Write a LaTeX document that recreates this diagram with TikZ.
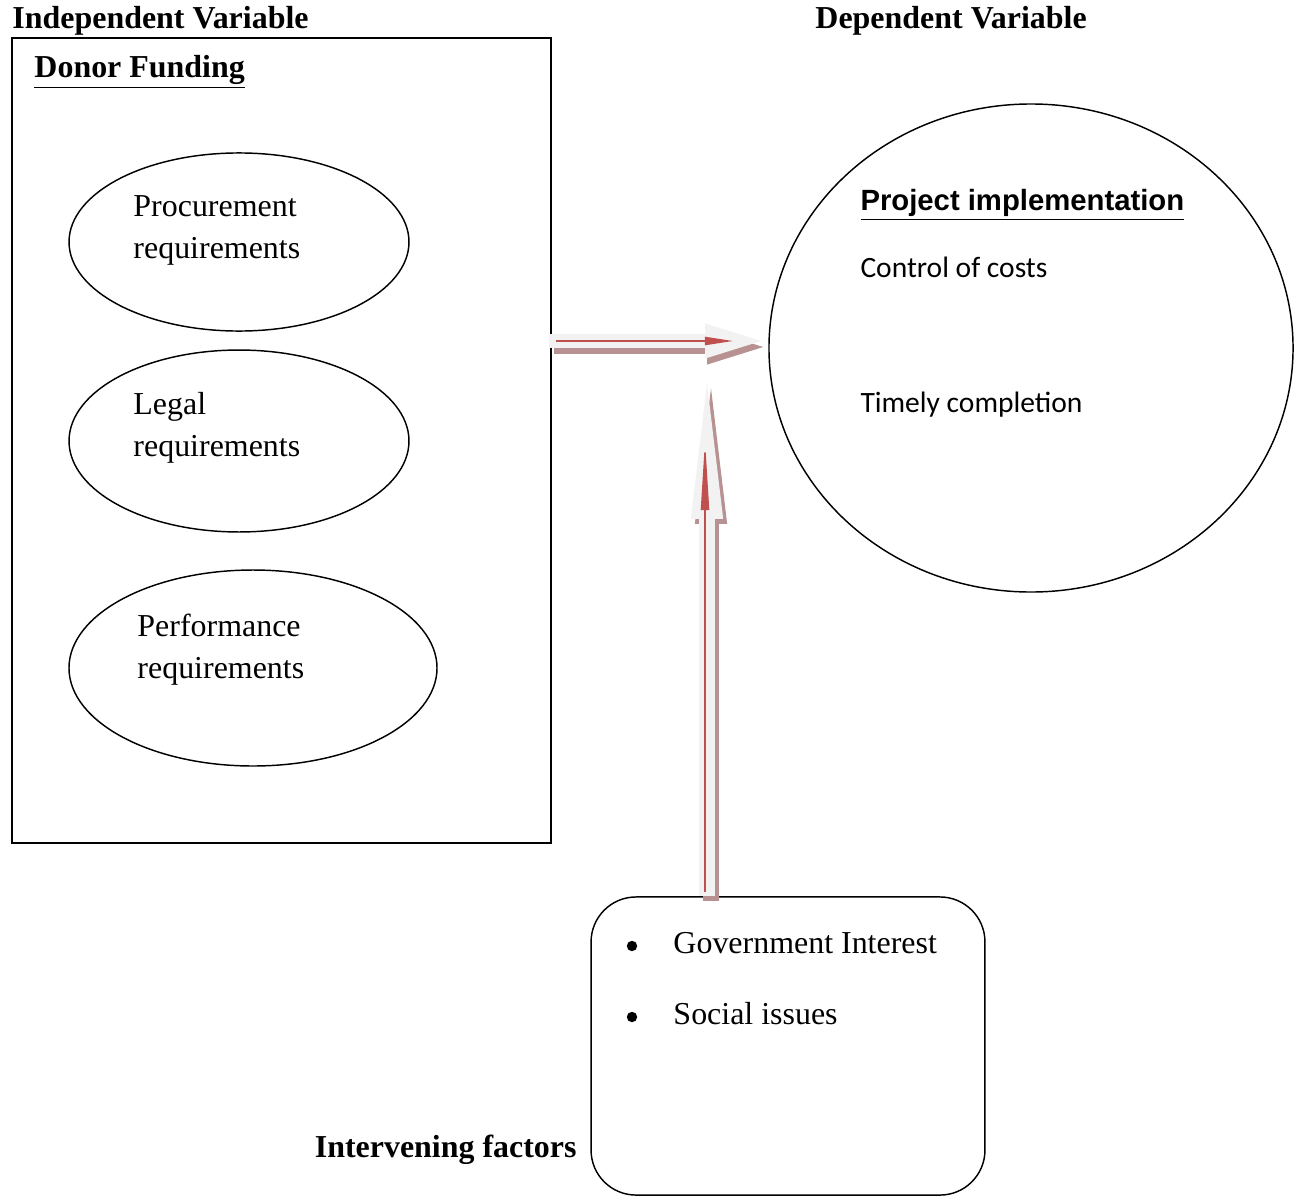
\documentclass[tikz,border=0pt]{standalone}
\usepackage{fontspec}
\setmainfont{Liberation Serif}
\newfontfamily\arialfont{Liberation Sans}
\newfontfamily\calibrifont{Carlito}
\usetikzlibrary{shapes.geometric,arrows.meta,calc}

\definecolor{arrowfill}{RGB}{242,242,242}
\definecolor{arrowshade}{RGB}{184,146,146}
\definecolor{arrowred}{RGB}{192,80,77}

\begin{document}
\begin{tikzpicture}[x=0.4133pt,y=-0.4133pt,
    txt/.style={anchor=base west, inner sep=0pt, font=\fontsize{13.2}{17.4}\selectfont},
    head/.style={anchor=base west, inner sep=0pt, font=\fontsize{13.2}{15}\selectfont\bfseries},
    calib/.style={anchor=base west, inner sep=0pt, font=\fontsize{12.2}{14}\calibrifont},
    dot/.style={circle, fill, inner sep=0pt, minimum size=4.3pt},
    oval/.style={ellipse, draw, line width=0.6pt, inner sep=0pt},
    fatH/.style={line width=5.8pt, -{Triangle[length=26pt,width=12.4pt]}},
    fatV/.style={line width=6.6pt, -{Triangle[length=69pt,width=11.2pt]}},
    thinred/.style={arrowred, line width=0.6pt}
    ]
    \useasboundingbox (0,0) rectangle (1295,1197);

    \node [head] (indep) at (12,29) {Independent Variable};
    \node [head] (dep) at (815,29) {Dependent Variable};

    \node [draw, line width=0.6pt, minimum width=222.8pt, minimum height=332.7pt, inner sep=0pt] (donor) at (281.5,440.5) {};
    \node [head] (donortitle) at (34,77) {\underline{Donor Funding}};

    \node [oval, minimum width=140.5pt, minimum height=73.6pt] (proc) at (239,242) {};
    \node [oval, minimum width=140.5pt, minimum height=75.2pt] (legal) at (239,441) {};
    \node [oval, minimum width=152.1pt, minimum height=81pt] (perf) at (253,668) {};
    \node [txt] (proc1) at (133,216) {Procurement};
    \node [txt] (proc2) at (133,258) {requirements};
    \node [txt] (legal1) at (133,414) {Legal};
    \node [txt] (legal2) at (133,456) {requirements};
    \node [txt] (perf1) at (137,636) {Performance};
    \node [txt] (perf2) at (137,678) {requirements};

    % dependent variable
    \node [oval, minimum width=216.6pt, minimum height=201.7pt] (impl) at (1031,348) {};
    \node [anchor=base west, inner sep=0pt, font=\fontsize{12.1}{14}\arialfont\bfseries] (impltitle) at (860,210) {\underline{Project implementation}};
    \node [calib] (costs) at (860,277) {Control of costs};
    \node [calib] (timely) at (860,412) {Timely completion};

    % intervening factors
    \node [draw, line width=0.6pt, rounded corners=18.6pt, minimum width=162.8pt, minimum height=123.2pt, inner sep=0pt] (factors) at (788,1046) {};
    \node [dot] (b1) at (632,946) {};
    \node [txt] (gov) at (673,953) {Government Interest};
    \node [dot] (b2) at (632,1017) {};
    \node [txt] (social) at (673,1024) {Social issues};
    \node [head, anchor=base east] (interv) at (577,1157) {Intervening factors};

    \coordinate (hend) at (768,341);
    \coordinate (vend) at (707,352);

    % block arrows
    \draw [fatV, arrowshade] ([shift={(4,5)}]factors.north -| vend) -- ([shift={(4,5)}]vend);
    \draw [fatH, arrowshade] ([shift={(2,6)}]donor.east |- hend) -- ([shift={(2,6)}]hend);
    \draw [fatH, arrowfill] ([xshift=-1pt]donor.east |- hend) -- (hend);
    \draw [fatV, arrowfill] (factors.north -| vend) -- (vend);
    \draw [thinred, -{Triangle[length=11.6pt,width=3.4pt]}] ($(donor.east |- hend)+(4,0)$) -- ($(hend)+(-35,0)$);
    \draw [thinred, -{Triangle[length=29pt,width=3.4pt]}] ($(factors.north -| vend)+(-2,-4)$) -- ($(vend)+(-2,88)$);
\end{tikzpicture}
\end{document}
